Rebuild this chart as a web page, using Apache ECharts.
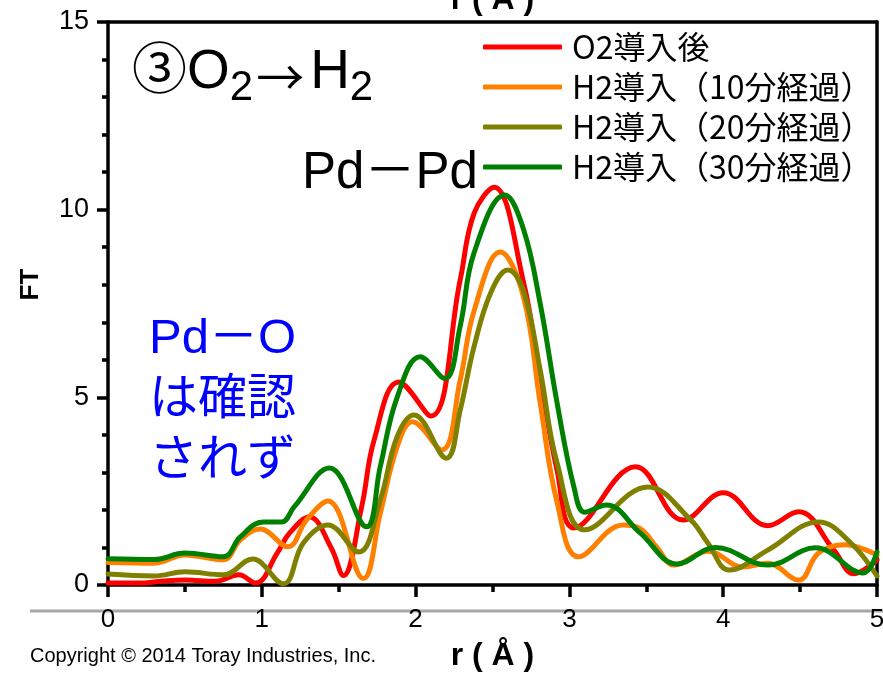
<!DOCTYPE html>
<html>
<head>
<meta charset="utf-8">
<script src="https://cdn.jsdelivr.net/npm/echarts@6/dist/echarts.min.js"></script>
<style>
  html, body { margin: 0; padding: 0; background: #fff; }
  #chart { width: 883px; height: 675px; }
</style>
</head>
<body>
<div id="chart"></div>
<script>
// FT magnitude vs. r (Å) for Pd during O2 -> H2 switching
const seriesNames = ['O2導入後', 'H2導入（10分経過）', 'H2導入（20分経過）', 'H2導入（30分経過）'];
const seriesColors = ['#ff0000', '#ff8000', '#808000', '#008000'];

const rO2 = [0, 0.2, 0.35, 0.5, 0.7, 0.85, 0.96, 1.1, 1.18, 1.31, 1.45, 1.53, 1.65, 1.73, 1.89, 2.1, 2.29, 2.38, 2.51, 2.7, 2.81, 2.92, 3.03, 3.43, 3.74, 4.0, 4.29, 4.49, 4.72, 4.85, 5.0];
const ftO2 = [0.05, 0.05, 0.1, 0.13, 0.1, 0.27, 0.05, 0.85, 1.38, 1.81, 1.0, 0.25, 2.1, 3.86, 5.41, 4.5, 8.13, 9.9, 10.6, 8.1, 5.5, 3.06, 1.52, 3.15, 1.73, 2.46, 1.58, 1.95, 0.93, 0.3, 0.67];

const rH10 = [0, 0.3, 0.5, 0.75, 0.86, 0.99, 1.17, 1.29, 1.43, 1.66, 1.77, 1.88, 1.98, 2.17, 2.29, 2.38, 2.55, 2.7, 2.81, 2.92, 3.06, 3.35, 3.46, 3.57, 3.68, 3.9, 4.13, 4.29, 4.49, 4.62, 4.79, 5.0];
const ftH10 = [0.6, 0.58, 0.8, 0.67, 1.2, 1.49, 1.02, 1.73, 2.24, 0.17, 1.9, 3.68, 4.35, 3.6, 5.46, 7.3, 8.87, 7.7, 4.85, 2.2, 0.75, 1.6, 1.5, 1.0, 0.53, 0.9, 0.48, 0.58, 0.13, 0.85, 1.07, 0.8];

const rH20 = [0, 0.3, 0.5, 0.75, 0.94, 1.14, 1.27, 1.43, 1.63, 1.77, 1.88, 1.99, 2.2, 2.29, 2.38, 2.49, 2.6, 2.7, 2.81, 2.92, 3.1, 3.51, 3.79, 3.9, 4.04, 4.29, 4.62, 4.83, 5.0];
const ftH20 = [0.29, 0.24, 0.35, 0.27, 0.69, 0.03, 1.12, 1.6, 0.88, 2.26, 3.95, 4.53, 3.38, 4.66, 6.35, 7.8, 8.39, 7.86, 5.73, 3.25, 1.47, 2.61, 1.73, 1.12, 0.4, 0.93, 1.68, 1.12, 0.24];

const rH30 = [0, 0.3, 0.5, 0.75, 0.86, 1.01, 1.13, 1.21, 1.44, 1.68, 1.77, 1.88, 2.03, 2.19, 2.29, 2.38, 2.58, 2.7, 2.81, 2.92, 3.03, 3.1, 3.24, 3.46, 3.7, 3.95, 4.29, 4.6, 4.91, 5.0];
const ftH30 = [0.7, 0.68, 0.85, 0.75, 1.28, 1.68, 1.68, 2.08, 3.12, 1.55, 3.15, 5.0, 6.08, 5.5, 6.9, 8.85, 10.39, 9.5, 7.5, 4.85, 2.6, 1.94, 2.13, 1.39, 0.56, 1.0, 0.53, 0.99, 0.32, 0.88];

const xTicks = { min: 0, max: 5, interval: 1 };
const yTicks = { min: 0, max: 15, interval: 5 };

const rLists = [rO2, rH10, rH20, rH30];
const ftLists = [ftO2, ftH10, ftH20, ftH30];

const latin = '"Liberation Sans", Arial, sans-serif';
const mixed = '"Liberation Sans", "Noto Sans CJK JP", sans-serif';
const jp = '"Noto Sans CJK JP", sans-serif';

const chart = echarts.init(document.getElementById('chart'), null, { renderer: 'canvas' });

const series = seriesNames.map((name, i) => ({
  name: name,
  type: 'line',
  smooth: 0.4,
  symbol: 'none',
  xAxisIndex: 0,
  yAxisIndex: 0,
  data: rLists[i].map((r, k) => [r, ftLists[i][k]]),
  lineStyle: { color: seriesColors[i], width: 5, cap: 'round', join: 'round' },
  itemStyle: { color: seriesColors[i] },
  z: 2 + i
}));

const axisLine = { show: true, onZero: false, lineStyle: { color: '#000', width: 3.5 } };

const option = {
  backgroundColor: '#ffffff',
  animation: false,
  grid: { left: 108, right: 6, top: 22, bottom: 90, containLabel: false, outerBoundsMode: 'none' },
  legend: {
    show: true,
    orient: 'vertical',
    left: 483,
    top: 31,
    padding: 0,
    itemWidth: 79,
    itemHeight: 5,
    itemGap: 8,
    icon: 'roundRect',
    data: seriesNames.map((n, i) => ({ name: n, itemStyle: { color: seriesColors[i] } })),
    textStyle: { fontFamily: jp, fontSize: 32, color: '#000', lineHeight: 32, padding: [0, 0, 0, 5] }
  },
  xAxis: [{
    type: 'value',
    position: 'bottom',
    min: xTicks.min, max: xTicks.max, interval: xTicks.interval,
    name: 'r ( Å )',
    nameLocation: 'middle',
    nameGap: 55,
    nameTextStyle: { fontFamily: latin, fontSize: 32, fontWeight: 'bold', color: '#000' },
    axisLine: axisLine,
    axisTick: { show: true, inside: false, length: 12, lineStyle: { color: '#000', width: 3.5 } },
    minorTick: { show: true, splitNumber: 2, length: 7, lineStyle: { color: '#000', width: 3.5 } },
    axisLabel: { fontFamily: latin, fontSize: 26, color: '#000', margin: 22 },
    splitLine: { show: false }
  }, {
    type: 'value',
    position: 'top',
    min: xTicks.min, max: xTicks.max, interval: xTicks.interval,
    name: 'r ( Å )',
    nameLocation: 'middle',
    nameGap: 6,
    nameTextStyle: { fontFamily: latin, fontSize: 32, fontWeight: 'bold', color: '#000', verticalAlign: 'bottom' },
    axisLine: axisLine,
    axisTick: { show: false },
    axisLabel: { show: false },
    splitLine: { show: false }
  }],
  yAxis: [{
    type: 'value',
    position: 'left',
    min: yTicks.min, max: yTicks.max, interval: yTicks.interval,
    name: 'FT',
    nameLocation: 'middle',
    nameGap: 64,
    nameRotate: 90,
    nameTextStyle: { fontFamily: latin, fontSize: 26, fontWeight: 'bold', color: '#000', padding: [0, 0, 0, 38] },
    axisLine: axisLine,
    axisTick: { show: true, inside: false, length: 11, lineStyle: { color: '#000', width: 3.5 } },
    minorTick: { show: true, splitNumber: 5, length: 6, lineStyle: { color: '#000', width: 3.5 } },
    axisLabel: { fontFamily: latin, fontSize: 27, color: '#000', margin: 19 },
    splitLine: { show: false }
  }, {
    type: 'value',
    position: 'right',
    min: yTicks.min, max: yTicks.max, interval: yTicks.interval,
    axisLine: axisLine,
    axisTick: { show: false },
    axisLabel: { show: false },
    splitLine: { show: false }
  }],
  series: series,
  graphic: [
    {
      type: 'line', z: -10, silent: true,
      shape: { x1: 30, y1: 611, x2: 883, y2: 611 },
      style: { stroke: '#a8a8a8', lineWidth: 3 }
    },
    {
      type: 'text', left: 30, top: 646, silent: true,
      style: { text: 'Copyright © 2014 Toray Industries, Inc.', fontFamily: latin, fontSize: 20, fill: '#000' }
    },
    {
      type: 'text', x: 132, y: 45, silent: true,
      style: {
        text: '{m|③O}{s|2}{a|→}{m|H}{s|2}',
        rich: {
          m: { fontFamily: mixed, fontSize: 55, fill: '#000', lineHeight: 70, verticalAlign: 'top' },
          a: { fontFamily: jp, fontSize: 48, fill: '#000', lineHeight: 70, verticalAlign: 'top', padding: [8, 6, 0, 3] },
          s: { fontFamily: latin, fontSize: 42, fill: '#000', lineHeight: 70, verticalAlign: 'top', padding: [22, 0, 0, 0] }
        }
      }
    },
    {
      type: 'text', x: 302, y: 148, silent: true,
      style: { text: 'Pd－Pd', fontFamily: mixed, fontSize: 51, fill: '#000' }
    },
    {
      type: 'text', x: 149, y: 309, silent: true,
      style: {
        text: 'Pd－O\nは確認\nされず',
        fontFamily: mixed,
        fontSize: 49, lineHeight: 61, fill: '#0000ff'
      }
    }
  ]
};

chart.setOption(option);
</script>
</body>
</html>
